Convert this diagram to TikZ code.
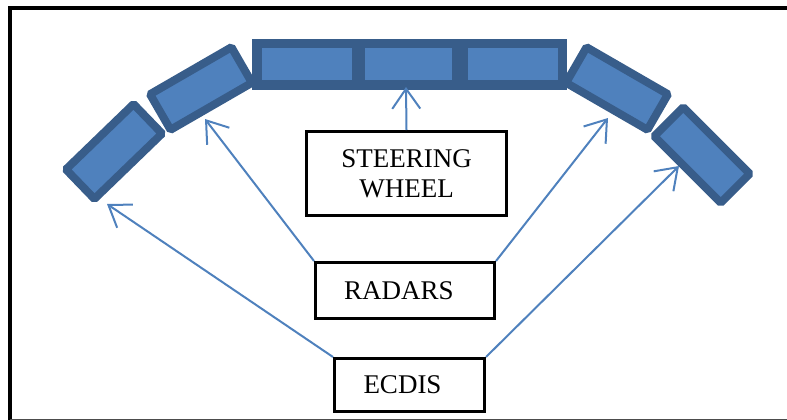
\documentclass[tikz,border=0pt]{standalone}
\usepackage{fontspec}
\setmainfont{Liberation Serif}
\usetikzlibrary{arrows.meta}
\definecolor{panelfill}{RGB}{79,129,189}
\definecolor{paneldark}{RGB}{56,93,138}
\definecolor{arrowblue}{RGB}{79,129,189}
\tikzset{
  panel/.style={draw=paneldark, fill=panelfill, line width=8pt, rounded corners=1.5pt,
    minimum width=94pt, minimum height=41pt, inner sep=0pt},
  cell/.style={fill=panelfill, inner sep=0pt, minimum height=32pt},
  labelbox/.style={draw=black, line width=3pt, inner sep=0pt, align=center,
    font=\fontsize{27}{30}\selectfont},
  feed/.style={draw=arrowblue, line width=2pt,
    -{Straight Barb[length=20pt,width=28pt,line width=2pt]}}
}
\begin{document}
\begin{tikzpicture}[x=1pt,y=-1pt]
\useasboundingbox (0,0) rectangle (787,420);
% frame
\draw[line width=3.5pt] (10,420) -- (10,8) -- (787,8);
\draw[gray!60!black, line width=1.5pt] (10,419.25) -- (787,419.25);
% console panels
\node[panel, rotate=44] (pl2) at (114,151.5) {};
\node[panel, rotate=30] (pl1) at (201,88.5) {};
\node[panel, rotate=-30] (pr1) at (617,88.5) {};
\node[panel, rotate=-45] (pr2) at (702,155) {};
\node[fill=paneldark, inner sep=0pt, minimum width=315pt, minimum height=51pt] (top) at (409.5,64.5) {};
\node[cell, minimum width=90pt] (c1) at (307,64) {};
\node[cell, minimum width=87pt] (c2) at (408.5,64) {};
\node[cell, minimum width=90pt] (c3) at (513,64) {};
% boxes
\node[labelbox, minimum width=200pt, minimum height=84pt] (steer) at (406.5,173.5) {STEERING\\WHEEL};
\node[labelbox, minimum width=179pt, minimum height=56pt] (radars) at (405,290.5) {RADARS\hspace*{12pt}};
\node[labelbox, minimum width=150pt, minimum height=53pt] (ecdis) at (409.5,385) {ECDIS\hspace*{14pt}};
% arrow targets
\coordinate (t0) at (406,87);
\coordinate (t1) at (205,119);
\coordinate (t2) at (608,118);
\coordinate (t3) at (107,204);
\coordinate (t4) at (679,166);
% arrows
\draw[feed] (steer.north) -- (t0);
\draw[feed] (radars.north west) -- (t1);
\draw[feed] (radars.north east) -- (t2);
\draw[feed] (ecdis.north west) -- (t3);
\draw[feed] (ecdis.north east) -- (t4);
\end{tikzpicture}
\end{document}
